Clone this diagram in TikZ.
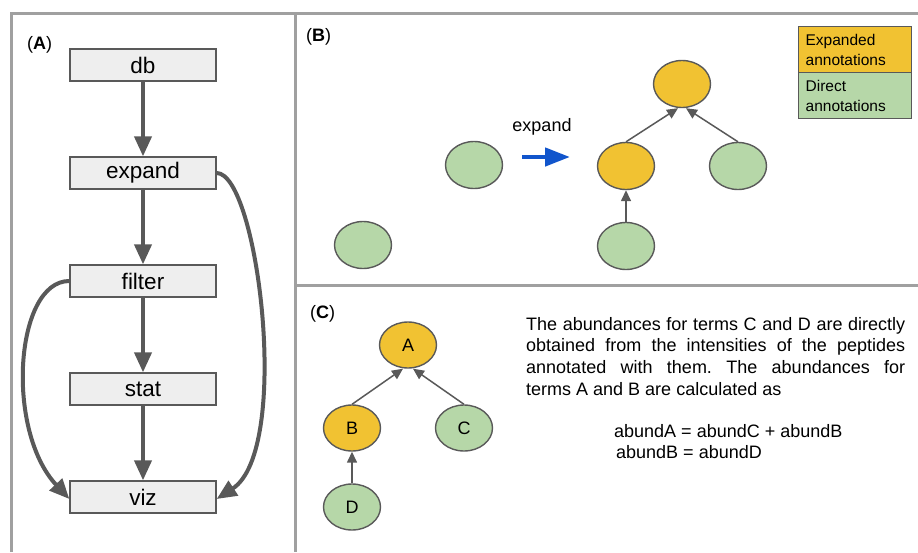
\documentclass[tikz,border=0pt]{standalone}
\usepackage{fontspec}
\setmainfont{Liberation Sans}
\usetikzlibrary{arrows.meta,shapes.geometric}
\definecolor{orng}{HTML}{F1C232}
\definecolor{grn}{HTML}{B6D7A8}
\definecolor{dgray}{HTML}{595959}
\definecolor{pgray}{HTML}{A0A0A0}
\definecolor{boxfill}{HTML}{EEEEEE}
\definecolor{blu}{HTML}{1155CC}
\frenchspacing
\begin{document}
\begin{tikzpicture}[x=1pt,y=-1pt,
  panel/.style={draw=pgray,line width=3pt},
  box/.style={draw=dgray,fill=boxfill,line width=1.3pt,minimum width=146pt,minimum height=32pt,inner sep=0pt,font=\fontsize{22.5}{26}\selectfont},
  flow/.style={draw=dgray,line width=4pt,-{Triangle[length=20pt,width=17pt]}},
  ell/.style={ellipse,draw=dgray,line width=1.4pt,minimum width=57pt,minimum height=47pt,inner sep=0pt,font=\fontsize{18}{22}\selectfont},
  ellc/.style={ell,minimum height=46pt},
  thin/.style={draw=dgray,line width=1.5pt,-{Triangle[length=11pt,width=10pt]}},
  plabel/.style={anchor=base west,inner sep=0pt,font=\fontsize{18}{22}\selectfont},
  legend/.style={anchor=north west,draw=dgray,line width=1.3pt,minimum width=113pt,minimum height=46pt,text width=99pt,inner xsep=7pt,inner ysep=0pt,align=left,font=\fontsize{15.5}{20}\selectfont}
]
\useasboundingbox (0,0) rectangle (918,552);
% panels
\draw[panel] (11,552) -- (11,13) -- (918,13);
\draw[panel] (295,13) -- (295,552);
\draw[panel] (295,285) -- (918,285);
% panel A
\node[plabel] (la) at (27,49) {(\textbf{A})};
\node[box] (db) at (143,65) {db};
\node[box] (expand) at (143,173) {expand};
\node[box] (filter) at (143,281) {filter};
\node[box] (stat) at (143,389) {stat};
\node[box] (viz) at (143,497) {viz};
\draw[flow] (db) -- (expand);
\draw[flow] (expand) -- (filter);
\draw[flow] (filter) -- (stat);
\draw[flow] (stat) -- (viz);
\draw[flow] (expand.east) .. controls (258,173) and (292,450) .. ([yshift=-2pt]viz.east);
\draw[flow] (filter.west) .. controls (15,281) and (5,430) .. ([yshift=-2pt]viz.west);
% panel B
\node[plabel] (lb) at (306,41) {(\textbf{B})};
\node[legend,fill=orng] (lexp) at (798,26) {Expanded\\annotations};
\node[legend,fill=grn] (ldir) at (798,72) {Direct\\annotations};
\node[ell,fill=grn] (b1) at (474,165) {};
\node[ell,fill=grn] (b2) at (363,245) {};
\node[ell,fill=orng] (bt) at (682,84) {};
\node[ell,fill=orng] (bm) at (626,166) {};
\node[ell,fill=grn] (br) at (738,166) {};
\node[ell,fill=grn] (bb) at (626,246) {};
\draw[thin] (bm.north) -- ([xshift=-4pt]bt.south);
\draw[thin] (br.north) -- ([xshift=4pt]bt.south);
\draw[thin] (bb.north) -- (bm.south);
\coordinate (ea) at (522,157);
\coordinate (eb) at (570,157);
\draw[draw=blu,line width=4.5pt,-{Triangle[length=25pt,width=18pt]}] (ea) -- (eb);
\node[anchor=base,inner sep=0pt,font=\fontsize{18}{22}\selectfont] (elabel) at (542,131) {expand};
% panel C
\node[plabel] (lc) at (310,318) {(\textbf{C})};
\node[ellc,fill=orng] (A) at (408,345) {A};
\node[ellc,fill=orng] (B) at (352,428) {B};
\node[ellc,fill=grn] (C) at (464,428) {C};
\node[ellc,fill=grn] (D) at (352,507) {D};
\draw[thin] (B.north) -- ([xshift=-5pt]A.south);
\draw[thin] (C.north) -- ([xshift=5pt]A.south);
\draw[thin] (D.north) -- (B.south);
\node[anchor=north west,inner sep=0pt,text width=379pt,align=justify,font=\fontsize{18}{21.7}\selectfont] (txt) at (526,317)
 {\hyphenpenalty=10000 The abundances for terms C and D are directly\linebreak obtained from the intensities of the peptides\linebreak annotated with them. The abundances for\linebreak terms A and B are calculated as};
\node[anchor=base west,inner sep=0pt,font=\fontsize{18}{22}\selectfont] (eq1) at (614,437) {abundA = abundC + abundB};
\node[anchor=base west,inner sep=0pt,font=\fontsize{18}{22}\selectfont] (eq2) at (616,458) {abundB = abundD};
\end{tikzpicture}
\end{document}
